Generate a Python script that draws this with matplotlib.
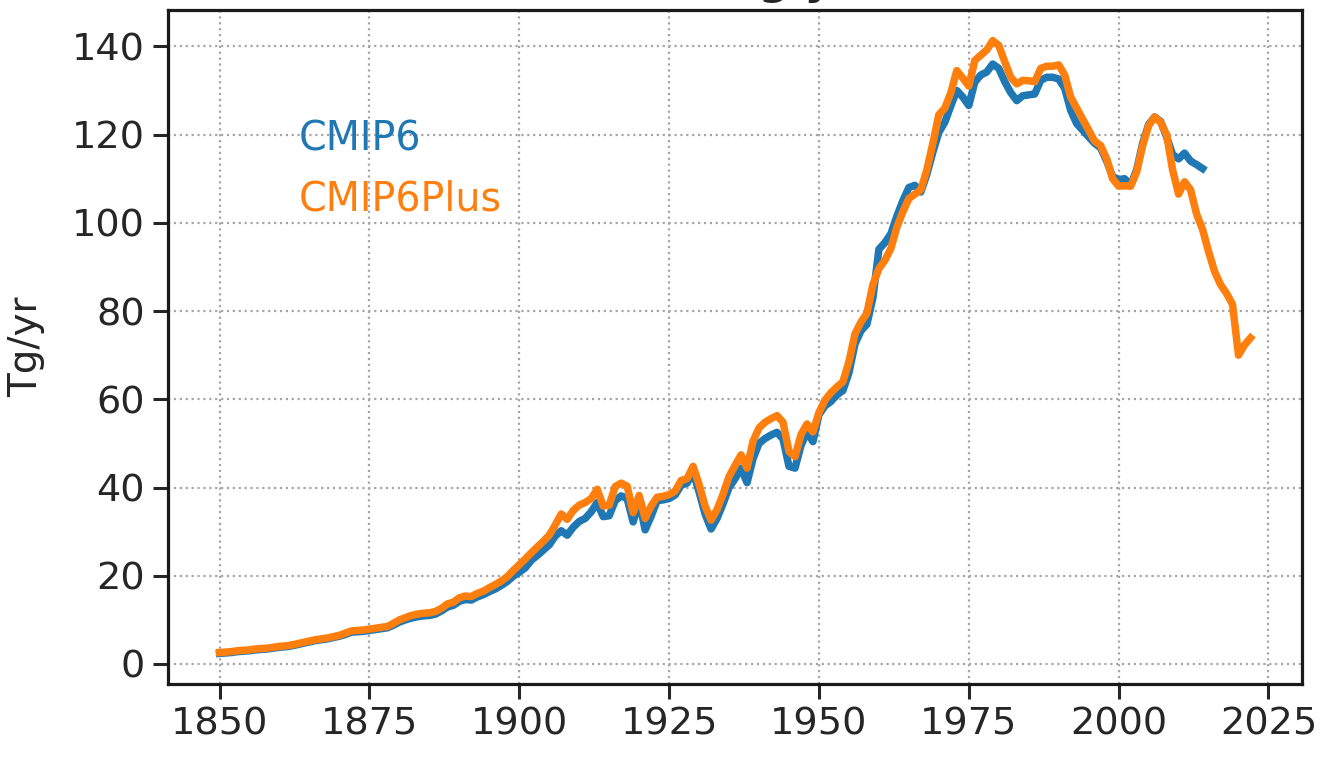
import numpy as np
import matplotlib
matplotlib.use('Agg')
import matplotlib.pyplot as plt

# years
years_cmip6 = list(range(1850, 2015))
years_plus = list(range(1850, 2023))

# CMIP6 emissions (Tg/yr), 1850-2014
cmip6 = [
    2.4, 2.5, 2.6, 2.8, 2.9, 3.0, 3.2, 3.3, 3.4, 3.6,
    3.8, 3.9, 4.1, 4.4, 4.7, 5.0, 5.3, 5.5, 5.7, 6.0,
    6.3, 6.7, 7.2, 7.3, 7.4, 7.6, 7.8, 8.0, 8.2, 8.8,
    9.5, 10.0, 10.4, 10.7, 10.9, 11.0, 11.3, 12.0, 12.9, 13.3,
    14.2, 14.6, 14.5, 15.2, 15.7, 16.4, 17.0, 17.8, 18.7, 19.9,
    20.8, 21.8, 23.5, 24.6, 25.8, 27.0, 29.0, 30.2, 29.2, 31.0,
    32.3, 33.0, 34.5, 36.6, 33.4, 33.6, 37.0, 38.1, 37.5, 32.2,
    37.0, 30.4, 33.5, 37.0, 37.2, 37.5, 38.3, 40.5, 41.0, 43.5,
    39.0, 34.0, 30.6, 33.0, 36.3, 40.0, 42.0, 44.4, 41.1, 46.5,
    50.0, 51.1, 51.9, 52.5, 51.0, 44.8, 44.4, 49.5, 52.6, 50.4,
    56.5, 58.5, 59.5, 61.0, 62.0, 66.0, 72.5, 75.5, 77.0, 83.0,
    94.0, 95.5, 97.5, 101.5, 105.0, 108.0, 108.5, 107.0, 111.0, 116.0,
    120.5, 122.8, 126.5, 130.0, 128.5, 126.6, 131.9, 133.5, 134.2, 136.0,
    135.0, 132.0, 129.5, 127.7, 128.8, 129.0, 129.2, 132.3, 133.0, 133.0,
    132.6, 130.5, 125.5, 122.5, 121.0, 119.5, 118.0, 117.0, 114.0, 110.5,
    109.8, 110.0, 108.5, 112.0, 118.0, 122.3, 124.0, 123.0, 119.5, 115.5,
    114.5, 115.8, 114.0, 113.2, 112.3,
]

# CMIP6Plus emissions (Tg/yr), 1850-2022
cmip6plus = [
    2.6, 2.7, 2.8, 3.0, 3.1, 3.2, 3.4, 3.5, 3.6, 3.8,
    4.0, 4.1, 4.3, 4.6, 4.9, 5.2, 5.5, 5.7, 5.9, 6.2,
    6.5, 7.0, 7.5, 7.6, 7.7, 7.9, 8.1, 8.3, 8.5, 9.2,
    10.0, 10.5, 11.0, 11.3, 11.5, 11.6, 11.9, 12.6, 13.6, 14.0,
    15.0, 15.4, 15.3, 16.0, 16.5, 17.3, 18.0, 18.8, 19.8, 21.2,
    22.5, 23.8, 25.2, 26.5, 27.8, 29.2, 31.5, 34.0, 32.8, 34.8,
    36.0, 36.6, 37.5, 39.6, 35.8, 36.0, 40.2, 41.0, 40.3, 34.3,
    38.2, 33.0, 35.8, 37.8, 38.0, 38.4, 39.2, 41.6, 42.0, 44.8,
    40.7, 35.8, 32.6, 35.0, 38.5, 42.5, 45.0, 47.4, 44.4, 50.5,
    53.5, 54.8, 55.6, 56.3, 54.8, 48.2, 47.0, 52.0, 54.4, 52.6,
    57.0, 59.8, 61.5, 62.8, 64.0, 68.5, 74.8, 77.5, 79.5, 86.0,
    89.6, 91.5, 94.2, 99.0, 102.5, 105.5, 106.5, 107.5, 112.0, 118.0,
    124.5, 126.0, 129.5, 134.5, 132.8, 131.0, 136.8, 138.0, 139.2, 141.3,
    140.2, 136.5, 133.0, 131.5, 132.3, 132.2, 132.0, 135.0, 135.5, 135.5,
    135.8, 133.5, 128.5, 126.0, 123.5, 121.0, 118.5, 117.5, 114.5, 110.0,
    108.3, 108.4, 108.3, 111.5, 117.5, 122.0, 124.0, 122.8, 120.0, 112.0,
    106.5, 109.3, 107.5, 102.0, 98.5, 93.5, 89.0, 86.0, 84.0, 81.5,
    70.0, 72.3, 73.9,
]

series_names = ['CMIP6', 'CMIP6Plus']
series_colors = ['#1f77b4', '#ff7f0e']
title_text = 'SO2 Tg yr'
ylabel_text = 'Tg/yr'

text_col = '#262626'
plt.rcParams['font.family'] = 'DejaVu Sans'

fig = plt.figure(figsize=(13.2, 7.57), dpi=100)
ax = fig.add_axes([0.1273, 0.0964, 0.8591, 0.8904])

ax.plot(years_cmip6, cmip6, color=series_colors[0], lw=5.4)
ax.plot(years_plus, cmip6plus, color=series_colors[1], lw=5.4)

ax.grid(True, linestyle=':', color='0.65', lw=1.6)
ax.set_yticks([0, 20, 40, 60, 80, 100, 120, 140])
ax.set_xticks([1850, 1875, 1900, 1925, 1950, 1975, 2000, 2025])

for sp in ax.spines.values():
    sp.set_linewidth(2.3)
    sp.set_color('#1a1a1a')
ax.tick_params(axis='both', which='major', length=10.5, width=2.2,
               color='#262626', labelsize=27.5, labelcolor=text_col, pad=6)

ax.set_ylabel(ylabel_text, fontsize=28, color=text_col)
ax.yaxis.set_label_coords(-0.1085, 0.5)

# title sits mostly above the canvas, as in the source image
ax.set_title(title_text, fontsize=31, fontweight='bold', color=text_col,
             y=1.024, pad=0)

ax.text(0.1155, 0.792, series_names[0], transform=ax.transAxes,
        color=series_colors[0], fontsize=28.5, va='baseline', ha='left')
ax.text(0.1155, 0.703, series_names[1], transform=ax.transAxes,
        color=series_colors[1], fontsize=28.5, va='baseline', ha='left')

fig.savefig('out.png', dpi=100)
